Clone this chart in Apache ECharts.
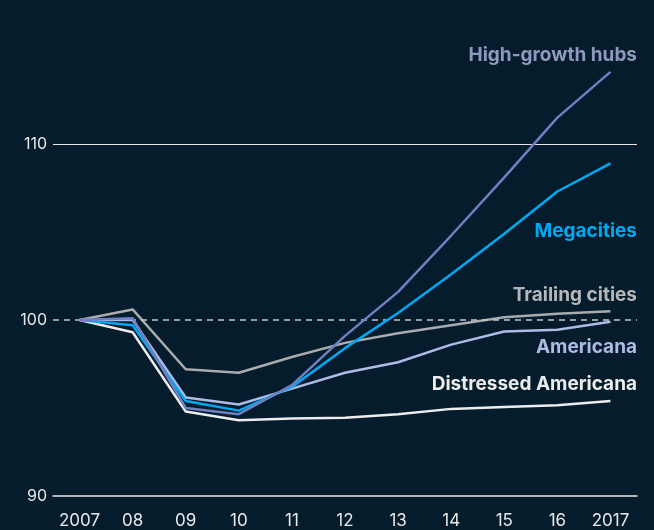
<!DOCTYPE html>
<html>
<head>
<meta charset="utf-8">
<script src="https://cdn.jsdelivr.net/npm/echarts@6/dist/echarts.min.js"></script>
<style>
	html, body { margin: 0; padding: 0; background: #051c2c; }
	#chart { width: 654px; height: 530px; }
</style>
</head>
<body>
<div id="chart"></div>
<script>
// data (index, 2007 = 100)
var years = ['2007', '08', '09', '10', '11', '12', '13', '14', '15', '16', '2017']
var highGrowth = [100, 100.1, 95.0, 94.65, 96.3, 99.1, 101.6, 104.8, 108.1, 111.5, 114.1]
var megacities = [100, 99.7, 95.4, 94.85, 96.2, 98.4, 100.4, 102.6, 104.9, 107.3, 108.9]
var trailing = [100, 100.6, 97.2, 97.0, 97.9, 98.7, 99.25, 99.7, 100.15, 100.35, 100.5]
var americana = [100, 100.0, 95.6, 95.2, 96.1, 97.0, 97.6, 98.6, 99.35, 99.45, 99.9]
var distressed = [100, 99.3, 94.8, 94.3, 94.4, 94.45, 94.65, 94.95, 95.05, 95.15, 95.4]
var yTicks = [90, 100, 110]

var chart = echarts.init(document.getElementById('chart'))

const lineSeries = (name, data, color, z) => ({
	name: name,
	type: 'line',
	data: data,
	symbol: 'none',
	z: z,
	lineStyle: { color: color, width: 2.5 },
	emphasis: { disabled: true },
})

// series names placed at the right edge of the plot
const labelText = (text, y, color) => ({
	type: 'text',
	x: 637,
	y: y,
	style: {
		text: text,
		fill: color,
		font: 'bold 19px Inter, Roboto, sans-serif',
		textAlign: 'right',
		textVerticalAlign: 'middle',
	},
})

var option = {
	backgroundColor: '#051c2c',
	animation: false,
	grid: { left: 53, right: 17, top: 56, bottom: 34 },
	xAxis: {
		type: 'category',
		data: years,
		boundaryGap: true,
		axisLine: { show: true, lineStyle: { color: '#e8e8e8', width: 1.5 } },
		axisTick: { show: false },
		axisLabel: { interval: 0, color: '#e6e8ea', fontSize: 17, fontFamily: 'Inter, Roboto, sans-serif', margin: 16 },
	},
	yAxis: {
		type: 'value',
		min: 90,
		max: 115,
		interval: 10,
		axisLine: { show: false },
		axisTick: { show: false },
		splitLine: { show: false },
		axisLabel: {
			color: '#e6e8ea',
			fontSize: 16,
			fontFamily: 'Inter, Roboto, sans-serif',
			margin: 6,
			formatter: (v) => (yTicks.indexOf(v) >= 0 ? String(v) : ''),
		},
	},
	series: [
		Object.assign(lineSeries('Trailing cities', trailing, '#a9abad', 3), {
			markLine: {
				silent: true,
				symbol: 'none',
				label: { show: false },
				data: [
					{ yAxis: 110, lineStyle: { color: '#e8e8e8', type: 'solid', width: 1.2 } },
					{ yAxis: 100, lineStyle: { color: '#c4c7ca', type: [6, 5], width: 1.5 } },
				],
			},
		}),
		lineSeries('Distressed Americana', distressed, '#ececec', 4),
		lineSeries('Americana', americana, '#aebbe6', 5),
		lineSeries('Megacities', megacities, '#00a9f4', 6),
		lineSeries('High-growth hubs', highGrowth, '#6f7fc0', 7),
	],
	graphic: [
		labelText('High-growth hubs', 55, '#9099bd'),
		labelText('Megacities', 231, '#00a9f4'),
		labelText('Trailing cities', 295, '#b5b7b9'),
		labelText('Americana', 347, '#aebbe6'),
		labelText('Distressed Americana', 384, '#ececec'),
	],
}

option && chart.setOption(option)
</script>
</body>
</html>
